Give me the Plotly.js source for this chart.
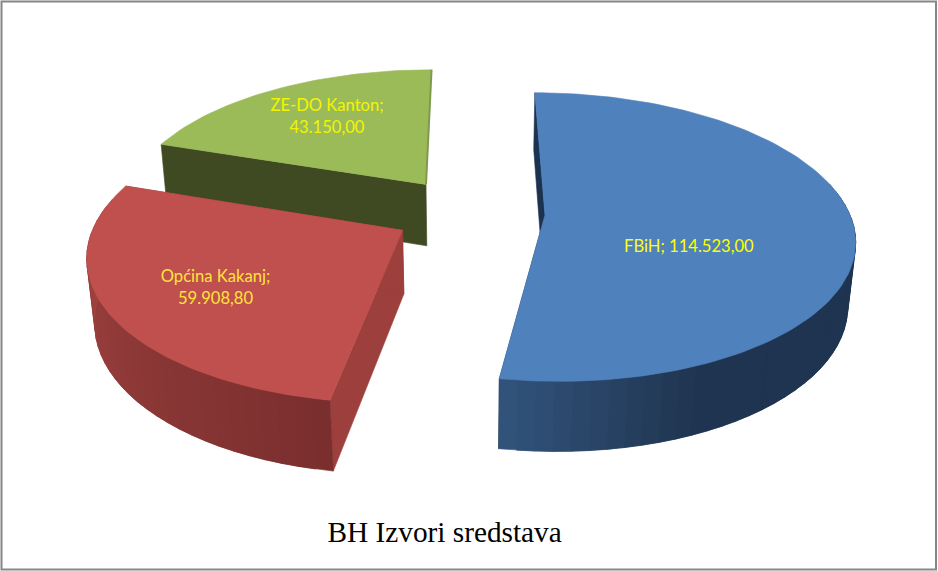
<!DOCTYPE html>
<html>
<head>
<meta charset="utf-8">
<script src="https://cdn.plot.ly/plotly-3.0.1.min.js"></script>
<style>html,body{margin:0;padding:0;background:#fff;overflow:hidden}</style>
</head>
<body>
<div id="chart" style="width:938px;height:571px"></div>
<script>
// Data
const categories = ['FBiH', 'Općina Kakanj', 'ZE-DO Kanton'];
const values = [114523.00, 59908.80, 43150.00];
const chartTitle = 'BH Izvori sredstava';

// Styles
const topColors = ['#4F81BD', '#C0504D', '#9BBB59'];
const cutColors = ['#1B3350', '#9C3F3D', '#3F4A22'];
const rimStart = [[31, 52, 80], [122, 47, 46], [60, 70, 34]];
const rimEnd = [[50, 84, 124], [168, 70, 68], [60, 70, 34]];
const labelColors = ['#FFFF00', '#FFE23C', '#F2F500'];
const labelReach = [0.44, 0.58, 0.66];
const labelShift = [[9, 28], [-22, 13], [3, -1]];
const labelBreak = ['; ', ';<br>', ';<br>'];
const backCutVisible = [true, true, false];
const backCutEdge = '#7F9A4F';

// Camera of the 3-D look
const CX = 469, CY = 212, RX = 304, RY = 140, H = 64, PERSP = 0.153, PERSPZ = 0.02, PULL = 0.25;
function project(x, y, z) {
  const s = 1 / (1 + PERSP * y + PERSPZ * z);
  return [CX + RX * x * s, CY - RY * y * s + H * z * s];
}
function polygon(pts, color) {
  return {type: 'scatter', mode: 'lines', x: pts.map(p => p[0]), y: pts.map(p => p[1]),
    fill: 'toself', fillcolor: color, line: {color: color, width: 0.6},
    hoverinfo: 'skip', showlegend: false};
}
function fmtValue(v) {
  const parts = v.toFixed(2).split('.');
  return parts[0].replace(/\B(?=(\d{3})+$)/g, '.') + ',' + parts[1];
}
const total = values.reduce((a, b) => a + b, 0);
const traces = [];
const labels = {x: [], y: [], text: [], color: []};
const order = [2, 1, 0];
const spans = [];
let acc = 0;
values.forEach((v, i) => { const a = acc; acc += v / total * 2 * Math.PI; spans[i] = [a, acc]; });

order.forEach(i => {
  const [a0, a1] = spans[i];
  const mid = (a0 + a1) / 2;
  const ox = PULL * Math.sin(mid), oy = PULL * Math.cos(mid);
  const pt = (a, r, z) => project(ox + r * Math.sin(a), oy + r * Math.cos(a), z);
  // radial cut faces
  traces.push(polygon([pt(a0, 0, 0), pt(a0, 1, 0), pt(a0, 1, 1), pt(a0, 0, 1), pt(a0, 0, 0)], cutColors[i]));
  if (backCutVisible[i]) {
    traces.push(polygon([pt(a1, 0, 0), pt(a1, 1, 0), pt(a1, 1, 1), pt(a1, 0, 1), pt(a1, 0, 0)], cutColors[i]));
  }
  // rim, shaded band by band; each band overlaps the next so no seams show
  const n = Math.ceil((a1 - a0) / (Math.PI / 60));
  const step = (a1 - a0) / n;
  const bandIdx = [];
  for (let k = 0; k < n; k++) bandIdx.push(k);
  if (i === 0) bandIdx.reverse();
  bandIdx.forEach(k => {
    const b0 = a0 + step * k, b1 = a0 + step * (k + 1);
    const c0 = (b0 + b1) / 2;
    if (Math.cos(c0) > 0.15) return;
    const t = i === 0 ? Math.min(1, Math.max(0, (c0 - Math.PI * 0.87) / (a1 - Math.PI * 0.87)))
                      : k / (n - 1);
    const c = rimStart[i].map((s, j) => Math.round(s + (rimEnd[i][j] - s) * t));
    const e0 = i === 0 ? Math.max(a0, b0 - step) : b0;
    const e1 = i === 0 ? b1 : Math.min(a1, b1 + step);
    const edge = [];
    for (let q = 0; q <= 2; q++) edge.push(e0 + (e1 - e0) * q / 2);
    const poly = edge.map(a => pt(a, 1, 0)).concat(edge.slice().reverse().map(a => pt(a, 1, 1)));
    poly.push(poly[0]);
    traces.push(polygon(poly, 'rgb(' + c.join(',') + ')'));
  });
  // top face
  const topPts = [pt(a0, 0, 0)];
  const m = Math.ceil((a1 - a0) / (Math.PI / 120));
  for (let k = 0; k <= m; k++) topPts.push(pt(a0 + (a1 - a0) * k / m, 1, 0));
  topPts.push(pt(a0, 0, 0));
  traces.push(polygon(topPts, topColors[i]));
  if (!backCutVisible[i]) {
    const e0 = pt(a1, 0, 0), e1 = pt(a1, 1, 0);
    traces.push({type: 'scatter', mode: 'lines', x: [e0[0], e1[0]], y: [e0[1], e1[1]],
      line: {color: backCutEdge, width: 2}, hoverinfo: 'skip', showlegend: false});
  }
  const lp = pt(mid, labelReach[i], 0);
  labels.x.push(lp[0] + labelShift[i][0]); labels.y.push(lp[1] + labelShift[i][1]);
  labels.text.push(categories[i] + labelBreak[i] + fmtValue(values[i]));
  labels.color.push(labelColors[i]);
});
traces.push({type: 'scatter', mode: 'text', x: labels.x, y: labels.y, text: labels.text,
  textposition: 'middle center', textfont: {family: 'Lato, "Open Sans", sans-serif', size: 16.6, color: labels.color},
  hoverinfo: 'skip', showlegend: false});

const layout = {
  width: 938, height: 571, autosize: false,
  margin: {l: 0, r: 0, t: 0, b: 0},
  paper_bgcolor: '#fff', plot_bgcolor: '#fff', showlegend: false,
  title: {text: chartTitle, x: 0.474, xanchor: 'center', y: 0.0695, yanchor: 'middle',
    font: {family: '"Liberation Serif", "Times New Roman", serif', size: 29.3, color: '#000'}},
  xaxis: {range: [0, 938], visible: false, fixedrange: true},
  yaxis: {range: [571, 0], visible: false, fixedrange: true},
  shapes: [{type: 'rect', xref: 'paper', yref: 'paper', x0: 1.5 / 938, x1: 936 / 938, y0: 1 - 1.5 / 571, y1: 1 - 569.5 / 571,
    line: {color: '#868686', width: 2}, fillcolor: 'rgba(0,0,0,0)'}]
};
Plotly.newPlot('chart', traces, layout, {displayModeBar: false, staticPlot: true});
</script>
</body>
</html>
